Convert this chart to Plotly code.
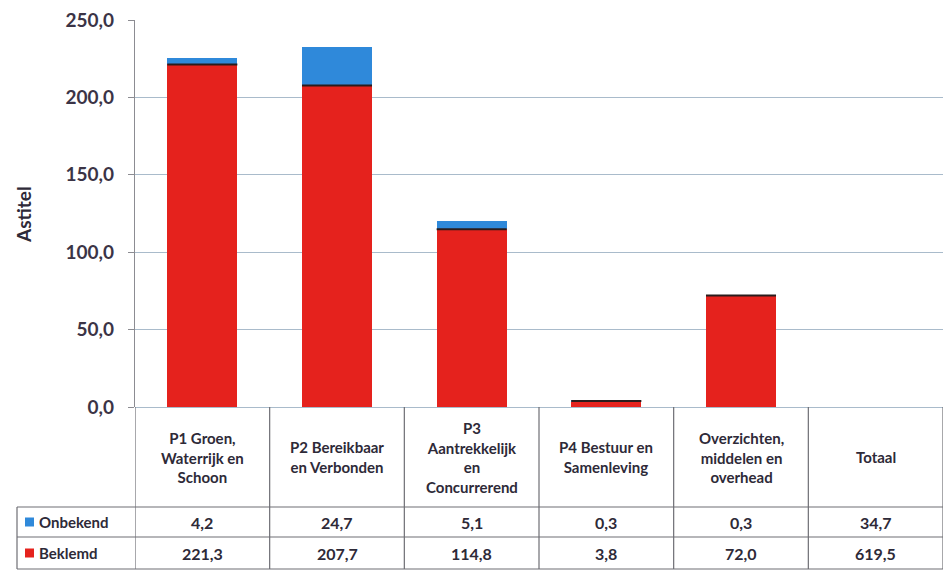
import plotly.graph_objects as go

categories = [
    "P1 Groen,<br>Waterrijk en<br>Schoon",
    "P2 Bereikbaar<br>en Verbonden",
    "P3<br>Aantrekkelijk<br>en<br>Concurrerend",
    "P4 Bestuur en<br>Samenleving",
    "Overzichten,<br>middelen en<br>overhead",
    "Totaal",
]
onbekend = [4.2, 24.7, 5.1, 0.3, 0.3, 34.7]
beklemd = [221.3, 207.7, 114.8, 3.8, 72.0, 619.5]
series_names = ["Onbekend", "Beklemd"]
y_ticks = [0, 50, 100, 150, 200, 250]

RED = "#E5221D"
BLUE = "#2F89DA"
TXT = "#2E2A38"
GRID = "#A9BBCB"
TLINE = "#6E6E74"
FONT = "Lato"

W, H = 943, 572
L, R, T, B = 135, 0, 20, 165
PH = H - T - B  # plot height in px


def fy(py):
    return (H - B - py) / PH


def fx(px):
    return (px - L) / (W - L - R)


n_bar = 5  # Totaal is not drawn as a bar
xs = list(range(len(categories)))

fig = go.Figure()
fig.add_trace(go.Bar(
    x=xs[:n_bar], y=beklemd[:n_bar], name=series_names[1],
    marker=dict(color=RED, line=dict(width=0)), width=0.52,
))
fig.add_trace(go.Bar(
    x=xs[:n_bar], y=onbekend[:n_bar], name=series_names[0],
    marker=dict(color=BLUE, line=dict(width=0)), width=0.52,
))

shapes = []
annotations = []

# dark separator at top of red segment
for i in range(n_bar):
    shapes.append(dict(type="line", xref="x", yref="y",
                       x0=xs[i] - 0.26, x1=xs[i] + 0.26,
                       y0=beklemd[i], y1=beklemd[i],
                       line=dict(color="#2a1c1c", width=2)))

# table geometry (pixels)
y_head_bot = 507
y_row1_bot = 537
y_row2_bot = 569
x_leg_left = 17

# horizontal table lines
for yy in [y_head_bot, y_row1_bot, y_row2_bot]:
    shapes.append(dict(type="line", xref="paper", yref="paper",
                       x0=fx(x_leg_left), x1=1, y0=fy(yy), y1=fy(yy),
                       line=dict(color=TLINE, width=1.2)))
# vertical table lines (category boundaries)
for i in range(len(categories) + 1):
    shapes.append(dict(type="line", xref="x", yref="paper",
                       x0=i - 0.5, x1=i - 0.5, y0=0, y1=fy(y_row2_bot),
                       line=dict(color=TLINE, width=1.2)))
# legend column left border
shapes.append(dict(type="line", xref="paper", yref="paper",
                   x0=fx(x_leg_left), x1=fx(x_leg_left),
                   y0=fy(y_head_bot), y1=fy(y_row2_bot),
                   line=dict(color=TLINE, width=1.2)))

# header texts
for i, c in enumerate(categories):
    annotations.append(dict(xref="x", yref="paper", x=xs[i], y=fy((407 + y_head_bot) / 2),
                            text=f"<b>{c}</b>", showarrow=False,
                            font=dict(family=FONT, size=15, color=TXT),
                            xanchor="center", yanchor="middle", align="center"))
# values rows
rows = [(onbekend, (y_head_bot + y_row1_bot) / 2), (beklemd, (y_row1_bot + y_row2_bot) / 2)]
for vals, yc in rows:
    for i, v in enumerate(vals):
        annotations.append(dict(xref="x", yref="paper", x=xs[i], y=fy(yc),
                                text="<b>" + f"{v:.1f}".replace(".", ",") + "</b>",
                                showarrow=False,
                                font=dict(family=FONT, size=16, color=TXT),
                                xanchor="center", yanchor="middle"))
# legend keys + labels
for name, col, yc in [(series_names[0], BLUE, (y_head_bot + y_row1_bot) / 2),
                      (series_names[1], RED, (y_row1_bot + y_row2_bot) / 2)]:
    shapes.append(dict(type="rect", xref="paper", yref="paper",
                       x0=fx(25), x1=fx(34), y0=fy(yc - 4.5), y1=fy(yc + 4.5),
                       fillcolor=col, line=dict(width=0)))
    annotations.append(dict(xref="paper", yref="paper", x=fx(37), y=fy(yc),
                            text=f"<b>{name}</b>", showarrow=False,
                            font=dict(family=FONT, size=15, color=TXT),
                            xanchor="left", yanchor="middle"))

# y axis title
annotations.append(dict(xref="paper", yref="paper", x=fx(24), y=fy(214),
                        text="<b>Astitel</b>", showarrow=False, textangle=-90,
                        font=dict(family=FONT, size=19, color=TXT),
                        xanchor="center", yanchor="middle"))

fig.update_layout(
    barmode="stack",
    width=W, height=H,
    margin=dict(l=L, r=R, t=T, b=B, pad=0),
    paper_bgcolor="white", plot_bgcolor="white",
    separators=",.",
    showlegend=False,
    shapes=shapes,
    annotations=annotations,
    font=dict(family=FONT, color=TXT),
    xaxis=dict(range=[-0.5, len(categories) - 0.5], showticklabels=False,
               showgrid=False, zeroline=False, showline=False, ticks=""),
    yaxis=dict(range=[0, 250], tickvals=y_ticks, tickformat=".1f",
               showgrid=True, gridcolor=GRID, gridwidth=1.2,
               zeroline=True, zerolinecolor=GRID, zerolinewidth=1.2,
               showline=True, linecolor="#8C8C92", linewidth=1.2,
               ticks="outside", ticklen=6, tickcolor="#8C8C92",
               ticklabelstandoff=10,
               tickfont=dict(family=FONT, size=19, color="#3B3446", weight="bold")),
)

fig.write_html("out.html",
               config={"displayModeBar": False},
               post_script="document.body.style.margin='0';document.body.style.overflow='hidden';")
